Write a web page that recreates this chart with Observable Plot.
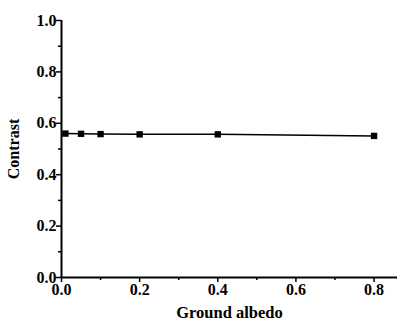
<!DOCTYPE html>
<html>
<head>
<meta charset="utf-8">
<script src="https://cdn.jsdelivr.net/npm/d3@7"></script>
<script src="https://cdn.jsdelivr.net/npm/@observablehq/plot@0.6"></script>
<style>
  html, body { margin: 0; padding: 0; background: white; }
  svg text { font-family: "Liberation Serif", "Times New Roman", serif; }
</style>
</head>
<body>
<div id="chart"></div>
<script>
const albedo = [0.01, 0.05, 0.1, 0.2, 0.4, 0.8];
const contrast = [0.560, 0.559, 0.558, 0.557, 0.557, 0.551];
const xTicks = [0, 0.2, 0.4, 0.6, 0.8];
const xMinorTicks = [0.1, 0.3, 0.5, 0.7];
const yTicks = [0, 0.2, 0.4, 0.6, 0.8, 1.0];
const yMinorTicks = [0.1, 0.3, 0.5, 0.7, 0.9];

const data = albedo.map((a, i) => ({albedo: a, contrast: contrast[i]}));
const serif = "Liberation Serif";

const chart = Plot.plot({
  width: 399,
  height: 320,
  marginLeft: 61,
  marginRight: 2,
  marginTop: 20,
  marginBottom: 43,
  style: {fontFamily: "'Liberation Serif', serif", fontSize: "16px", background: "white", color: "black"},
  x: {domain: [0, 0.86]},
  y: {domain: [0, 1]},
  marks: [
    Plot.axisX({ticks: xTicks, tickSize: 5, tickPadding: 1, tickFormat: ".1f", strokeWidth: 1.5,
      fontFamily: serif, fontSize: 16, fontWeight: "bold", fontVariant: "normal", label: null}),
    Plot.axisX({ticks: [], label: "Ground albedo", labelAnchor: "center", labelArrow: "none",
      labelOffset: 40, fontFamily: serif, fontSize: 16.5, fontWeight: "bold", dx: 5}),
    Plot.axisX({ticks: xMinorTicks, tickSize: 3, tickFormat: () => "", label: null, strokeWidth: 1.5}),
    Plot.axisY({ticks: yTicks, tickSize: 5, tickPadding: 0, tickFormat: ".1f", strokeWidth: 1.5,
      fontFamily: serif, fontSize: 16, fontWeight: "bold", fontVariant: "normal", label: null}),
    Plot.axisY({ticks: [], label: "Contrast", labelAnchor: "center", labelArrow: "none",
      labelOffset: 54, fontFamily: serif, fontSize: 16, fontWeight: "bold"}),
    Plot.axisY({ticks: yMinorTicks, tickSize: 3, tickFormat: () => "", label: null, strokeWidth: 1.5}),
    Plot.ruleX([0], {strokeWidth: 2}),
    Plot.ruleY([0], {strokeWidth: 2}),
    Plot.line(data, {x: "albedo", y: "contrast", stroke: "black", strokeWidth: 1.5}),
    Plot.dot(data, {x: "albedo", y: "contrast", symbol: "square", r: 3.6, fill: "black", stroke: "none"})
  ]
});
document.getElementById("chart").appendChild(chart);
</script>
</body>
</html>
